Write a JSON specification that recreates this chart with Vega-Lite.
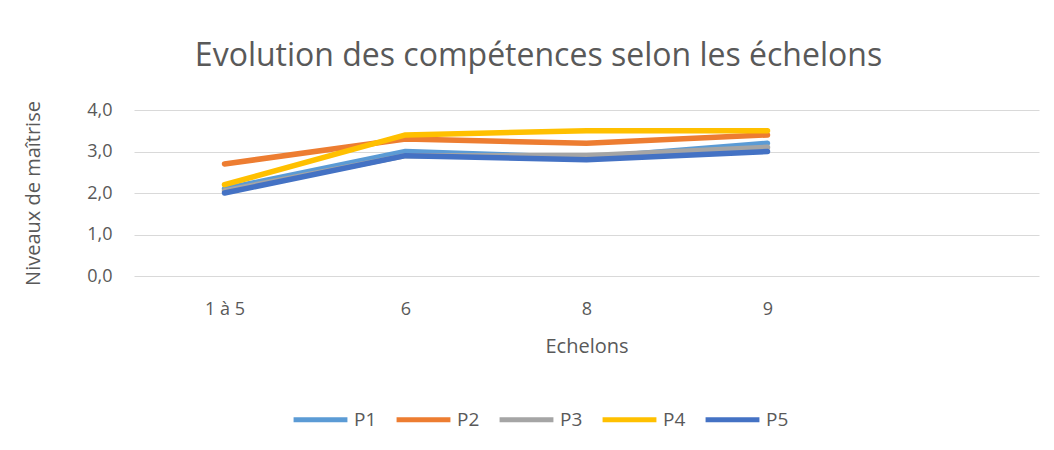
{
  "$schema": "https://vega.github.io/schema/vega-lite/v6.json",
  "autosize": "none",
  "width": 905,
  "height": 166,
  "padding": {"left": 134, "top": 110, "right": 15, "bottom": 174},
  "background": "white",
  "config": {
    "view": {"stroke": null},
    "font": "Open Sans"
  },
  "title": {
    "text": "Evolution des compétences selon les échelons",
    "fontSize": 32,
    "font": "Open Sans",
    "fontWeight": "normal",
    "color": "#595959",
    "anchor": "middle",
    "dx": -48,
    "offset": 28
  },
  "data": {
    "values": [
      {"serie": "P1", "echelon": "1 à 5", "niveau": 2.1},
      {"serie": "P1", "echelon": "6", "niveau": 3.0},
      {"serie": "P1", "echelon": "8", "niveau": 2.85},
      {"serie": "P1", "echelon": "9", "niveau": 3.2},
      {"serie": "P2", "echelon": "1 à 5", "niveau": 2.7},
      {"serie": "P2", "echelon": "6", "niveau": 3.3},
      {"serie": "P2", "echelon": "8", "niveau": 3.2},
      {"serie": "P2", "echelon": "9", "niveau": 3.4},
      {"serie": "P3", "echelon": "1 à 5", "niveau": 2.05},
      {"serie": "P3", "echelon": "6", "niveau": 2.9},
      {"serie": "P3", "echelon": "8", "niveau": 2.9},
      {"serie": "P3", "echelon": "9", "niveau": 3.1},
      {"serie": "P4", "echelon": "1 à 5", "niveau": 2.2},
      {"serie": "P4", "echelon": "6", "niveau": 3.4},
      {"serie": "P4", "echelon": "8", "niveau": 3.5},
      {"serie": "P4", "echelon": "9", "niveau": 3.5},
      {"serie": "P5", "echelon": "1 à 5", "niveau": 2.0},
      {"serie": "P5", "echelon": "6", "niveau": 2.9},
      {"serie": "P5", "echelon": "8", "niveau": 2.8},
      {"serie": "P5", "echelon": "9", "niveau": 3.0}
    ]
  },
  "mark": {"type": "line", "strokeWidth": 5.5, "strokeCap": "round", "strokeJoin": "round"},
  "encoding": {
    "x": {
      "field": "echelon",
      "type": "ordinal",
      "sort": null,
      "scale": {"type": "point", "domain": ["1 à 5", "6", "8", "9", " "], "padding": 0.5},
      "axis": {
        "title": "Echelons",
        "titleFontSize": 20,
        "titleFontWeight": "normal",
        "titleColor": "#595959",
        "titlePadding": 18,
        "labelFontSize": 18,
        "labelColor": "#595959",
        "labelPadding": 24,
        "labelAngle": 0,
        "ticks": false,
        "domain": false,
        "grid": false
      }
    },
    "y": {
      "field": "niveau",
      "type": "quantitative",
      "scale": {"domain": [0, 4]},
      "axis": {
        "title": "Niveaux de maîtrise",
        "titleFontSize": 20,
        "titleFontWeight": "normal",
        "titleColor": "#595959",
        "titlePadding": 43,
        "values": [0, 1, 2, 3, 4],
        "labelExpr": "replace(format(datum.value, '.1f'), '.', ',')",
        "labelFontSize": 18,
        "labelColor": "#595959",
        "labelPadding": 22,
        "ticks": false,
        "domain": false,
        "grid": true,
        "gridColor": "#D9D9D9",
        "gridWidth": 1.2
      }
    },
    "color": {
      "field": "serie",
      "type": "nominal",
      "scale": {
        "domain": ["P1", "P2", "P3", "P4", "P5"],
        "range": ["#5B9BD5", "#ED7D31", "#A5A5A5", "#FFC000", "#4472C4"]
      },
      "legend": {
        "title": null,
        "orient": "none",
        "direction": "horizontal",
        "legendX": 157,
        "legendY": 280,
        "symbolType": "stroke",
        "symbolStrokeWidth": 5,
        "symbolSize": 2900,
        "labelFontSize": 19,
        "labelColor": "#595959",
        "labelOffset": 4,
        "columnPadding": 9
      }
    }
  }
}
